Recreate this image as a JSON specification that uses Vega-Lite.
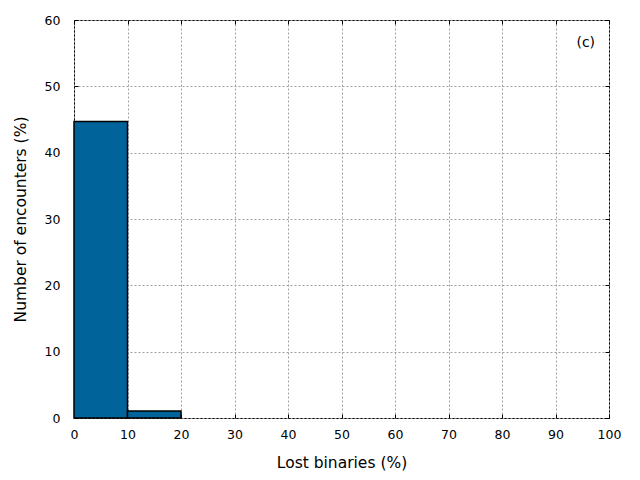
{
  "$schema": "https://vega.github.io/schema/vega-lite/v6.json",
  "width": 535,
  "height": 398,
  "autosize": "none",
  "padding": {"left": 74, "top": 20, "right": 31, "bottom": 62},
  "background": "white",
  "config": {
    "view": {"stroke": "black", "strokeWidth": 1},
    "font": "DejaVu Sans",
    "axis": {
      "labelFont": "DejaVu Sans",
      "titleFont": "DejaVu Sans",
      "labelFontSize": 12.5,
      "titleFontSize": 15.5,
      "titleFontWeight": "normal",
      "labelColor": "black",
      "titleColor": "black",
      "labelFlush": false,
      "labelOverlap": false,
      "domain": false,
      "tickColor": "black",
      "tickSize": -4,
      "tickWidth": 1,
      "gridColor": "#a0a0a0",
      "gridDash": [2, 2],
      "gridWidth": 1
    }
  },
  "data": {
    "values": [
      {"bin_start": 0, "bin_end": 10, "pct": 44.7},
      {"bin_start": 10, "bin_end": 20, "pct": 1.05}
    ]
  },
  "resolve": {"axis": {"x": "independent", "y": "independent"}},
  "layer": [
    {
      "mark": {"type": "bar", "color": "#00649a", "stroke": "black", "strokeWidth": 1.5},
      "encoding": {
        "x": {
          "field": "bin_start", "type": "quantitative",
          "scale": {"domain": [0, 100], "nice": false},
          "axis": {"orient": "bottom", "title": "Lost binaries (%)", "values": [0,10,20,30,40,50,60,70,80,90,100], "labelPadding": 14, "titlePadding": 15, "grid": true}
        },
        "x2": {"field": "bin_end"},
        "y": {
          "field": "pct", "type": "quantitative",
          "scale": {"domain": [0, 60], "nice": false},
          "axis": {"orient": "left", "title": "Number of encounters (%)", "values": [0,10,20,30,40,50,60], "labelPadding": 18, "titlePadding": 16, "grid": true}
        },
        "y2": {"datum": 0}
      }
    },
    {
      "mark": {"type": "point", "opacity": 0},
      "encoding": {
        "x": {
          "field": "bin_start", "type": "quantitative",
          "scale": {"domain": [0, 100], "nice": false},
          "axis": {"orient": "top", "title": null, "labels": false, "values": [0,10,20,30,40,50,60,70,80,90,100], "grid": false}
        },
        "y": {
          "field": "pct", "type": "quantitative",
          "scale": {"domain": [0, 60], "nice": false},
          "axis": {"orient": "right", "title": null, "labels": false, "values": [0,10,20,30,40,50,60], "grid": false}
        }
      }
    },
    {
      "data": {"values": [{"label": "(c)", "x": 97.4, "y": 56.5}]},
      "mark": {"type": "text", "fontSize": 14, "font": "DejaVu Sans", "align": "right", "baseline": "middle"},
      "encoding": {
        "x": {"field": "x", "type": "quantitative", "scale": {"domain": [0, 100], "nice": false}, "axis": null},
        "y": {"field": "y", "type": "quantitative", "scale": {"domain": [0, 60], "nice": false}, "axis": null},
        "text": {"field": "label"}
      }
    }
  ]
}
